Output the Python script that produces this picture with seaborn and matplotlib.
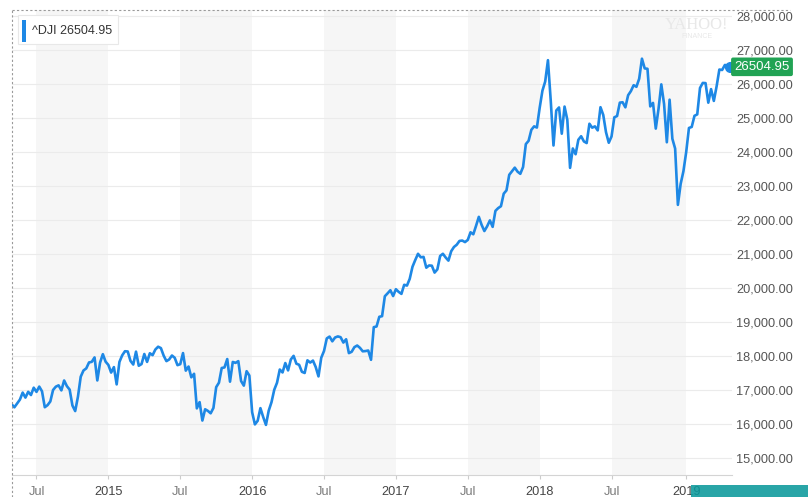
import numpy as np
import pandas as pd
import matplotlib
matplotlib.use("Agg")
import matplotlib.pyplot as plt
import matplotlib.transforms as mtransforms
from matplotlib.patches import Rectangle, FancyBboxPatch
from matplotlib.lines import Line2D
from matplotlib.ticker import FuncFormatter
import seaborn as sns

# ---------------- data (weekly closes, week starting Monday) ----------------
symbol = "^DJI"
last_quote = 26504.95
first_week = "2014-05-05"

close_2014 = [16583, 16491, 16606, 16717, 16924, 16776, 16947, 16852, 17068, 16944,
              17100, 16961, 16493, 16554, 16663, 17001, 17098, 17137, 16988, 17280,
              17113, 17010, 16544, 16380, 16805, 17391, 17574, 17635, 17810, 17828,
              17959, 17281, 17805, 18054, 17833]
close_2015 = [17737, 17512, 17673, 17165, 17825, 18019, 18140, 18133, 17856, 17749,
              18128, 17713, 17763, 18058, 17826, 18080, 18025, 18191, 18273, 18232,
              18011, 17849, 17899, 18015, 17947, 17730, 17760, 18086, 17569, 17690,
              17373, 17477, 16460, 16643, 16102, 16433, 16385, 16315, 16472, 17084,
              17216, 17647, 17664, 17910, 17245, 17824, 17798, 17848, 17265, 17128,
              17553, 17425]
close_2016 = [16347, 15988, 16094, 16466, 16205, 15974, 16392, 16640, 17007, 17213,
              17602, 17516, 17793, 17577, 17898, 18004, 17774, 17741, 17535, 17501,
              17873, 17807, 17865, 17675, 17400, 17949, 18147, 18517, 18571, 18432,
              18544, 18576, 18553, 18395, 18492, 18085, 18124, 18261, 18308, 18240,
              18138, 18145, 18161, 17888, 18848, 18868, 19153, 19171, 19757, 19843,
              19934, 19763]
close_2017 = [19964, 19886, 19827, 20094, 20071, 20269, 20624, 20822, 21006, 20903,
              20915, 20597, 20663, 20656, 20453, 20548, 20941, 21007, 20897, 20805,
              21080, 21206, 21272, 21384, 21395, 21350, 21414, 21638, 21580, 21830,
              22093, 21858, 21675, 21814, 21988, 21798, 22268, 22350, 22405, 22774,
              22871, 23329, 23434, 23539, 23422, 23358, 23558, 24232, 24329, 24652,
              24754, 24719]
close_2018 = [25296, 25803, 26072, 26700, 25521, 24191, 25219, 25310, 24538, 25336,
              24947, 23533, 24103, 23933, 24360, 24463, 24311, 24263, 24831, 24715,
              24753, 24635, 25317, 25090, 24581, 24271, 24456, 25019, 25058, 25451,
              25463, 25313, 25669, 25790, 25965, 25917, 26155, 26744, 26458, 26447,
              25340, 25444, 24688, 25271, 25989, 25413, 24286, 25538, 24389, 24101,
              22445, 23062, 23433]
close_2019 = [23996, 24706, 24737, 25064, 25106, 25883, 26031, 26026, 25450, 25849,
              25502, 25929, 26425, 26412, 26559, 26543, 26504.95]

y_ticks = [15000, 16000, 17000, 18000, 19000, 20000, 21000,
           22000, 23000, 24000, 25000, 26000, 27000, 28000]
half_year_label = "Jul"

closes = close_2014 + close_2015 + close_2016 + close_2017 + close_2018 + close_2019
dates = pd.date_range(first_week, periods=len(closes), freq="W-MON")
df = pd.DataFrame({"date": dates, "close": closes})

# ---------------- styling ----------------
BLUE = "#1e88e5"
GREEN = "#21a354"
W, H = 808, 497

sns.set_theme(style="white")
plt.rcParams["font.family"] = ["Liberation Sans", "DejaVu Sans"]

fig = plt.figure(figsize=(W / 100, H / 100), dpi=100)
fig.patch.set_facecolor("white")


def fx(px):
    return px / W


def fy(py):
    return 1 - py / H


ax = fig.add_axes([fx(12), fy(475), 720 / W, 465 / H])
ax.set_facecolor("white")

sns.lineplot(data=df, x="date", y="close", ax=ax, color=BLUE, linewidth=1.9, zorder=3)
ax.plot(df["date"].iloc[-1], df["close"].iloc[-1], "o", ms=7, color=BLUE,
        clip_on=False, zorder=4)

ax.set_xlim(pd.Timestamp("2014-05-06"), pd.Timestamp("2019-05-03"))
ax.set_ylim(14500, 28176)

# ticks at first weekly bar of every January and July
firsts = df.groupby([df["date"].dt.year, df["date"].dt.month])["date"].first()
tick_dates = [d for (yr, mo), d in firsts.items() if mo in (1, 7)]
tick_labels = [half_year_label if d.month == 7 else str(d.year) for d in tick_dates]
ax.set_xticks(tick_dates)
ax.set_xticklabels(tick_labels)
for lab, d in zip(ax.get_xticklabels(), tick_dates):
    lab.set_color("#7a7a7a" if d.month == 7 else "#444444")

# shaded second-half-of-year bands
for i, d in enumerate(tick_dates):
    if d.month == 7:
        end = tick_dates[i + 1] if i + 1 < len(tick_dates) else ax.get_xlim()[1]
        ax.axvspan(d, end, color="#f6f6f6", lw=0, zorder=0)

ax.yaxis.tick_right()
ax.set_yticks(y_ticks)
ax.yaxis.set_major_formatter(FuncFormatter(lambda v, p: f"{v:,.2f}"))
ax.tick_params(axis="y", length=0, pad=3, labelsize=9.2, labelcolor="#555555")
ax.tick_params(axis="x", length=3, width=0.8, color="#cccccc", pad=5,
               labelsize=9.2, bottom=True)
ax.grid(axis="y", color="#ebebeb", lw=0.8, zorder=1)
ax.grid(axis="x", visible=False)
ax.set_xlabel("")
ax.set_ylabel("")
for s in ("top", "left", "right"):
    ax.spines[s].set_visible(False)
ax.spines["bottom"].set_color("#d4d4d4")
ax.spines["bottom"].set_linewidth(0.8)

# current-value label on the right
blend = mtransforms.blended_transform_factory(ax.transAxes, ax.transData)
ax.text(1 + 30 / 720, last_quote, f"{last_quote:.2f}", transform=blend,
        ha="center", va="center", fontsize=9.5, color="white", zorder=6,
        bbox=dict(boxstyle="round,pad=0.25,rounding_size=0.15", fc=GREEN, ec="none"))

# dashed frame (top and left)
fig.add_artist(Line2D([fx(12), fx(12)], [0, fy(10)], ls=(0, (2, 2)),
                      color="#9a9a9a", lw=0.8))
fig.add_artist(Line2D([fx(12), fx(790)], [fy(10), fy(10)], ls=(0, (2, 2)),
                      color="#9a9a9a", lw=0.8))

# legend box top-left
fig.add_artist(FancyBboxPatch((fx(18), fy(44)), fx(100), 29 / H,
                              boxstyle="square,pad=0", fc="white", ec="#e8e8e8",
                              lw=0.8, zorder=5))
fig.add_artist(Rectangle((fx(22), fy(42)), fx(4), 22 / H, fc=BLUE, ec="none", zorder=6))
fig.text(fx(32), fy(31), f"{symbol} {last_quote:.2f}", va="center", ha="left",
         fontsize=9, color="#333333", zorder=7)

# watermark
fig.text(fx(697), fy(25), "YAHOO!", ha="center", va="center", fontsize=12,
         family="Liberation Serif", color="#e8e8e8", zorder=2)
fig.text(fx(697), fy(36), "FINANCE", ha="center", va="center", fontsize=5,
         color="#e8e8e8", zorder=2)

# teal strip bottom-right
fig.add_artist(Rectangle((fx(691), 0), fx(117), 12 / H, fc="#0b999b", ec="none",
                         alpha=0.88, zorder=10))

fig.savefig("out.png", dpi=100)
